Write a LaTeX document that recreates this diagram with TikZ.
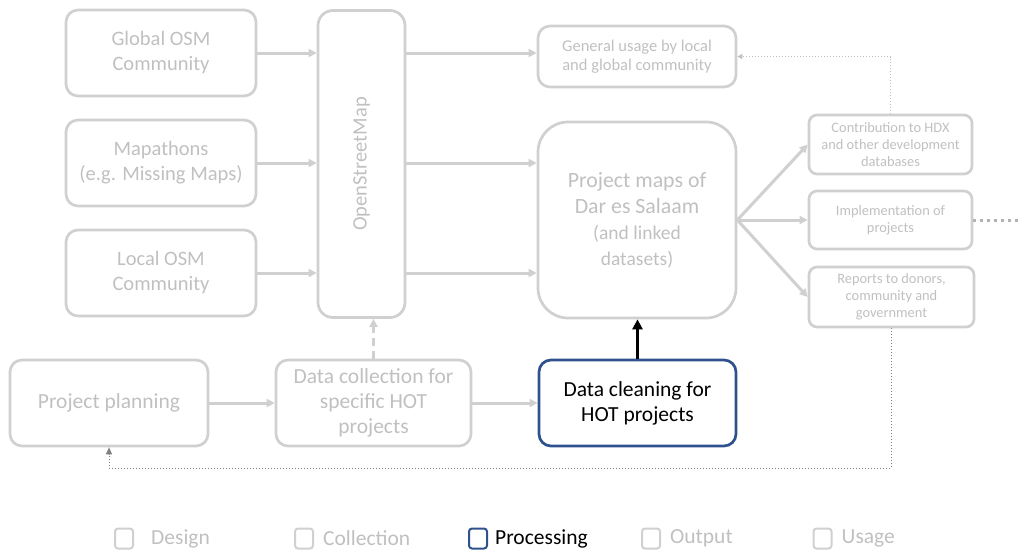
\documentclass[tikz,border=0pt]{standalone}
\usepackage{fontspec}
\setmainfont{Carlito}
\usepackage{tikz}
\usetikzlibrary{arrows.meta,positioning,calc}
\definecolor{ghost}{HTML}{D0D0D0}
\definecolor{ghosttext}{HTML}{C0C0C0}
\definecolor{dotgray}{HTML}{B2B2B2}
\definecolor{navy}{HTML}{2F528F}
\tikzset{
  stagebox/.style={
    rectangle, rounded corners=#1, draw=ghost, line width=2.7pt,
    text=ghosttext, align=center, inner sep=2pt,
    font=\fontsize{20.5}{25}\selectfont
  },
  stagebox/.default=12pt,
  outbox/.style={
    rectangle, rounded corners=8pt, draw=ghost, line width=2.7pt,
    text=ghosttext, align=center, inner sep=2pt,
    font=\fontsize{14.4}{17}\selectfont
  },
  flowarrow/.style={
    -{Triangle[length=8pt,width=8pt]}, line width=3pt, color=ghost
  },
  thinloop/.style={
    -{Triangle[length=5pt,width=5pt]}, line width=1pt, dotted, color=#1
  },
  thinloop/.default=dotgray,
  legsq/.style={
    rectangle, rounded corners=3pt, draw=#1, line width=2pt,
    minimum width=18pt, minimum height=20pt, inner sep=0pt
  },
  legsq/.default=ghost,
  legtxt/.style={
    inner sep=0pt, text=ghosttext, font=\fontsize{21.5}{25}\selectfont
  },
}

\begin{document}
\begin{tikzpicture}[x=1pt,y=-1pt]
\useasboundingbox (0,0) rectangle (1019,552);

% Contributors on the left
\node[stagebox, minimum width=190pt, minimum height=86pt] (glob) at (161,53) {Global OSM\\Community};
\node[stagebox, minimum width=190pt, minimum height=86pt] (mapa) at (161,163) {Mapathons\\(e.g. Missing Maps)};
\node[stagebox, minimum width=190pt, minimum height=86pt] (loc) at (161,273) {Local OSM\\Community};

% OpenStreetMap column
\node[stagebox=15pt, minimum width=87pt, minimum height=307pt,
  label={[rotate=90, text=ghosttext, font=\fontsize{20.5}{25}\selectfont]center:OpenStreetMap}] (osm) at (361.5,164) {};

% Usage and project maps
\node[stagebox, minimum width=198pt, minimum height=61pt,
  font=\fontsize{16.5}{19.5}\selectfont] (gen) at (637,56.5) {General usage by local\\and global community};
\node[stagebox=30pt, minimum width=198pt, minimum height=196pt,
  font=\fontsize{21.8}{26}\selectfont] (pmap) at (637,220)
  {Project maps of\\Dar es Salaam\\{\fontsize{19.5}{23}\selectfont (and linked}\\{\fontsize{19.5}{23}\selectfont datasets)}};

% Outputs on the right
\node[outbox, minimum width=163pt, minimum height=59pt] (contr) at (890.5,144.5) {Contribution to HDX\\and other development\\databases};
\node[outbox, minimum width=163pt, minimum height=58pt] (impl) at (890.5,220) {Implementation of\\projects};
\node[outbox, minimum width=165pt, minimum height=60pt] (rep) at (891.5,297) {Reports to donors,\\community and\\government};

% Bottom row
\node[stagebox, minimum width=198pt, minimum height=86pt, font=\fontsize{21.5}{25}\selectfont] (plan) at (109,403) {Project planning};
\node[stagebox, minimum width=195pt, minimum height=86pt, font=\fontsize{21.5}{25}\selectfont] (coll) at (373.5,403) {Data collection for\\specific HOT\\projects};
\node[stagebox, draw=navy, text=black, minimum width=197pt, minimum height=86pt, font=\fontsize{21.5}{25}\selectfont] (clean) at (637.5,403) {Data cleaning for\\HOT projects};

% Flows into OpenStreetMap
\draw[flowarrow] (glob.east) -- (glob.east -| osm.west);
\draw[flowarrow] (mapa.east) -- (mapa.east -| osm.west);
\draw[flowarrow] (loc.east) -- (loc.east -| osm.west);

% Flows out of OpenStreetMap
\draw[flowarrow] (glob.east -| osm.east) -- (glob.east -| gen.west);
\draw[flowarrow] (mapa.east -| osm.east) -- (mapa.east -| pmap.west);
\draw[flowarrow] (loc.east -| osm.east) -- (loc.east -| pmap.west);

% Fan out to outputs
\draw[flowarrow] (pmap.east) -- (contr.west);
\draw[flowarrow] (pmap.east) -- (impl.west);
\draw[flowarrow] (pmap.east) -- (rep.west);

% Bottom row flows
\draw[flowarrow] (plan.east) -- (coll.west);
\draw[flowarrow] (coll.east) -- (clean.west);
\draw[flowarrow, dash pattern=on 8pt off 5pt] (coll.north) -- (coll.north |- osm.south);
\draw[-{Triangle[length=10pt,width=10pt]}, line width=3pt, black] (clean.north) -- (clean.north |- pmap.south);

% Feedback loops
\coordinate (edge) at (1019,220);
\coordinate (loopbase) at (0,468);
\draw[thinloop=ghosttext] (contr.north) |- (gen.east);
\draw[dotgray, line width=3pt, dash pattern=on 3pt off 4pt] (impl.east) -- (edge);
\draw[thinloop, -{Triangle[length=7pt,width=6pt]}, color=gray] (rep.south) -- (rep.south |- loopbase) -| (plan.south);

% Legend
\node[legsq] (sqdes) at (124,538.5) {};
\node[legtxt, right=17pt of sqdes] (ldes) {Design};
\node[legsq] (sqcol) at (304,538.5) {};
\node[legtxt, right=9pt of sqcol] (lcol) {Collection};
\node[legsq=navy] (sqpro) at (478,538.5) {};
\node[legtxt, right=7pt of sqpro, text=black] (lpro) {Processing};
\node[legsq] (sqout) at (651,538.5) {};
\node[legtxt, right=9pt of sqout] (lout) {Output};
\node[legsq] (squse) at (822.5,538.5) {};
\node[legtxt, right=9pt of squse] (luse) {Usage};

\end{tikzpicture}
\end{document}
